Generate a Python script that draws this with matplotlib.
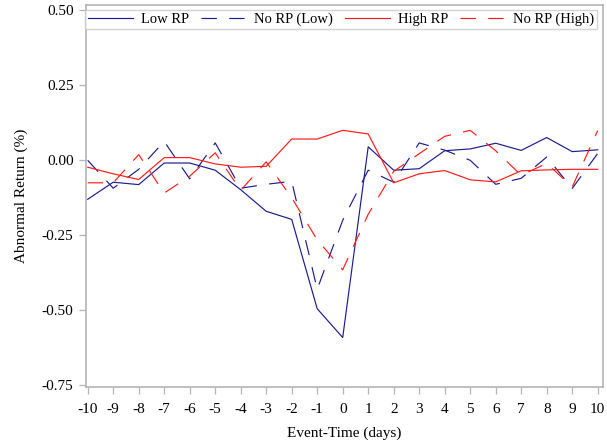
import matplotlib
matplotlib.use("Agg")
import matplotlib.pyplot as plt

# ---- data ----
event_time = list(range(-10, 11))
low_rp = [-0.130, -0.073, -0.081, -0.009, -0.009, -0.033, -0.098, -0.170, -0.197, -0.495,
          -0.591, 0.045, -0.033, -0.028, 0.032, 0.038, 0.057, 0.033, 0.076, 0.029, 0.035]
no_rp_low = [0.000, -0.093, -0.030, 0.063, -0.062, 0.058, -0.093, -0.080, -0.070, -0.430,
             -0.200, -0.033, -0.073, 0.058, 0.034, 0.000, -0.080, -0.060, 0.011, -0.094, 0.023]
high_rp = [-0.023, -0.045, -0.064, 0.009, 0.009, -0.012, -0.023, -0.020, 0.071, 0.071,
           0.100, 0.088, -0.075, -0.045, -0.034, -0.065, -0.072, -0.035, -0.032, -0.030, -0.030]
no_rp_high = [-0.075, -0.075, 0.019, -0.109, -0.053, 0.025, -0.100, -0.005, -0.125, -0.265,
              -0.365, -0.180, -0.037, 0.022, 0.080, 0.100, 0.032, -0.050, -0.010, -0.089, 0.099]
series_labels = ["Low RP", "No RP (Low)", "High RP", "No RP (High)"]
y_ticks = [0.50, 0.25, 0.00, -0.25, -0.50, -0.75]
x_label = "Event-Time (days)"
y_label = "Abnormal Return (%)"

plt.rcParams['font.family'] = ['Liberation Serif', 'DejaVu Serif']
plt.rcParams['axes.unicode_minus'] = False

navy = "#1c1c8e"
red = "#ff1a1a"
gray = "#b4b4b4"

fig = plt.figure(figsize=(6.07, 4.46), dpi=100)
ax = fig.add_axes([86 / 607, 1 - 387.3 / 446, 516.7 / 607, 382.3 / 446])

lw = 0.85
dash = (0, (13, 10.5))
ax.plot(event_time, low_rp, color=navy, lw=lw, label=series_labels[0])
ax.plot(event_time, no_rp_low, color=navy, lw=lw, linestyle=dash, label=series_labels[1])
ax.plot(event_time, high_rp, color=red, lw=lw, label=series_labels[2])
ax.plot(event_time, no_rp_high, color=red, lw=lw, linestyle=dash, label=series_labels[3])

ax.set_xlim(-10.067, 10.196)
ax.set_ylim(-0.757, 0.518)
ax.set_xticks(event_time)
ax.set_xticklabels([str(v) for v in event_time])
ax.set_yticks(y_ticks)
ax.set_yticklabels([f"{v:.2f}" for v in y_ticks])

for s in ax.spines.values():
    s.set_color(gray)
    s.set_linewidth(1.2)

ax.tick_params(axis='both', direction='out', length=5, width=0.9, color=gray,
               labelsize=11, labelcolor='black')
ax.tick_params(axis='x', pad=6)
ax.tick_params(axis='y', pad=4)

ax.set_xlabel(x_label, fontsize=11, labelpad=8)
ax.set_ylabel(y_label, fontsize=11, labelpad=10)

leg = ax.legend(loc='upper left', bbox_to_anchor=(-0.002, 0.987),
                ncol=4, fontsize=10.5, frameon=True, fancybox=False,
                handlelength=3.1, handletextpad=0.55, borderpad=0.2, borderaxespad=0,
                columnspacing=0.8)
leg.get_frame().set_edgecolor("#c8c8c8")
leg.get_frame().set_linewidth(1.0)

fig.savefig("out.png", dpi=100)
